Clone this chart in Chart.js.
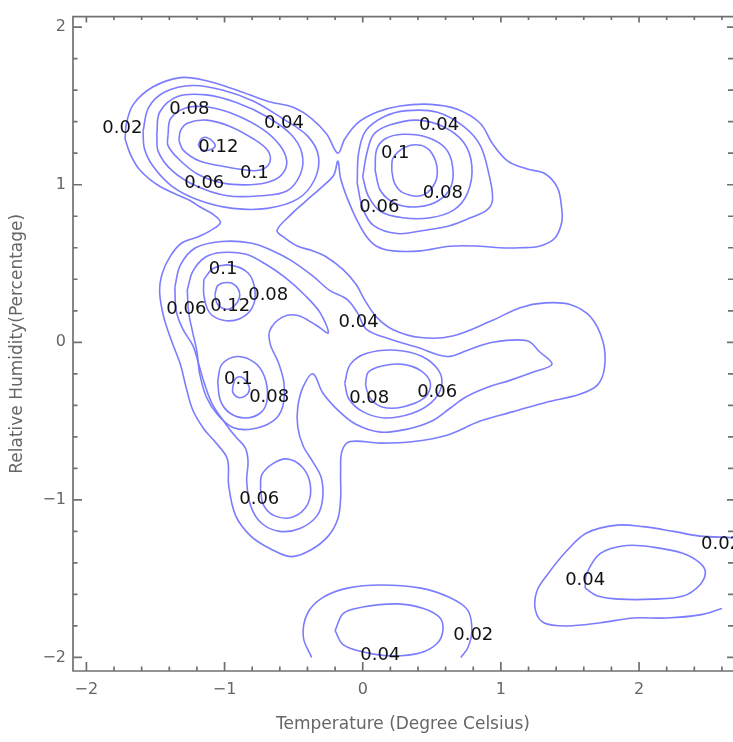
<!DOCTYPE html>
<html>
<head>
<meta charset="utf-8">
<script src="https://cdn.jsdelivr.net/npm/chart.js@4.4.0/dist/chart.umd.min.js"></script>
<style>
html, body { margin: 0; padding: 0; background: #fff; }
canvas { display: block; }
</style>
</head>
<body>
<canvas id="Chart" width="733" height="742"></canvas>
<script>
var xTicks = [-2, -1, 0, 1, 2];
var yTicks = [-2, -1, 0, 1, 2];

// contour lines, each point is [temperature, humidity]
var outer02 = [[-1.72,1.29],[-1.71,1.39],[-1.66,1.51],[-1.52,1.62],[-1.32,1.68],[-1.13,1.66],[-0.91,1.60],[-0.69,1.53],[-0.50,1.49],[-0.37,1.42],[-0.26,1.32],[-0.18,1.20],
  [-0.13,1.29],[-0.04,1.39],[0.10,1.46],[0.27,1.50],[0.49,1.51],[0.68,1.48],[0.85,1.39],[0.94,1.26],[1.05,1.15],[1.19,1.10],[1.32,1.07],[1.41,0.98],[1.44,0.85],[1.44,0.76],[1.39,0.66],[1.28,0.61],[1.14,0.60],[0.99,0.60],[0.85,0.61],[0.63,0.61],[0.42,0.58],[0.22,0.58],[0.10,0.61],[0.02,0.68],[-0.05,0.79],[-0.11,0.91],[-0.16,1.04],[-0.18,1.15],
  [-0.21,1.06],[-0.29,0.99],[-0.42,0.89],[-0.52,0.81],[-0.62,0.71],[-0.56,0.66],[-0.47,0.61],[-0.36,0.58],[-0.26,0.54],[-0.14,0.46],[-0.05,0.37],[0.02,0.26],[0.10,0.16],[0.22,0.08],[0.42,0.03],[0.65,0.04],[0.94,0.14],[1.14,0.22],[1.32,0.25],[1.50,0.24],[1.65,0.16],[1.74,0.00],[1.75,-0.16],[1.70,-0.27],[1.57,-0.33],[1.33,-0.38],[1.09,-0.44],[0.85,-0.50],[0.61,-0.59],[0.37,-0.63],[0.13,-0.64],[-0.09,-0.63],[-0.15,-0.69],[-0.16,-0.82],[-0.16,-0.99],[-0.18,-1.12],[-0.25,-1.23],[-0.38,-1.32],[-0.52,-1.36],[-0.67,-1.31],[-0.81,-1.23],[-0.92,-1.10],[-0.97,-0.91],[-0.98,-0.74],[-1.07,-0.63],[-1.15,-0.55],[-1.23,-0.43],[-1.28,-0.28],[-1.32,-0.14],[-1.38,0.00],[-1.44,0.16],[-1.47,0.32],[-1.45,0.44],[-1.39,0.55],[-1.31,0.63],[-1.19,0.67],[-1.10,0.71],[-1.03,0.76],[-1.08,0.81],[-1.18,0.86],[-1.25,0.90],[-1.47,0.99],[-1.61,1.09],[-1.68,1.19],[-1.72,1.29]];

var tl12 = [[-1.19,1.25],[-1.17,1.29],[-1.13,1.30],[-1.08,1.27],[-1.07,1.24],[-1.11,1.22],[-1.16,1.22],[-1.19,1.25]];
var tl10 = [[-1.33,1.28],[-1.32,1.34],[-1.27,1.39],[-1.13,1.41],[-0.96,1.37],[-0.79,1.29],[-0.69,1.22],[-0.67,1.15],[-0.72,1.10],[-0.81,1.09],[-1.03,1.12],[-1.18,1.15],[-1.30,1.22],[-1.33,1.28]];
var tl08 = [[-1.41,1.31],[-1.39,1.42],[-1.27,1.49],[-1.10,1.49],[-0.91,1.44],[-0.72,1.35],[-0.60,1.25],[-0.55,1.15],[-0.58,1.07],[-0.67,1.02],[-0.81,1.00],[-1.01,1.01],[-1.20,1.07],[-1.34,1.17],[-1.41,1.25],[-1.41,1.31]];
var tl06 = [[-1.49,1.32],[-1.47,1.46],[-1.34,1.56],[-1.13,1.57],[-0.91,1.52],[-0.69,1.43],[-0.52,1.32],[-0.44,1.20],[-0.45,1.07],[-0.55,0.96],[-0.74,0.93],[-0.98,0.93],[-1.20,0.99],[-1.38,1.09],[-1.48,1.21],[-1.49,1.32]];
var tl04 = [[-1.59,1.34],[-1.55,1.49],[-1.43,1.59],[-1.23,1.63],[-1.01,1.60],[-0.79,1.53],[-0.58,1.42],[-0.40,1.31],[-0.32,1.18],[-0.35,1.03],[-0.47,0.91],[-0.69,0.85],[-0.94,0.85],[-1.18,0.90],[-1.38,0.99],[-1.52,1.12],[-1.58,1.23],[-1.59,1.34]];

var tr10 = [[0.21,1.09],[0.22,1.17],[0.31,1.24],[0.42,1.25],[0.50,1.20],[0.54,1.09],[0.51,0.99],[0.42,0.93],[0.29,0.95],[0.23,1.01],[0.21,1.09]];
var tr08 = [[0.09,1.09],[0.10,1.22],[0.16,1.29],[0.29,1.32],[0.47,1.30],[0.60,1.23],[0.65,1.12],[0.64,0.99],[0.55,0.90],[0.40,0.86],[0.24,0.88],[0.13,0.96],[0.09,1.09]];
var tr06 = [[0.00,1.05],[0.03,1.20],[0.08,1.32],[0.20,1.38],[0.39,1.41],[0.58,1.37],[0.73,1.27],[0.79,1.12],[0.76,0.95],[0.66,0.84],[0.49,0.79],[0.29,0.79],[0.13,0.83],[0.04,0.93],[0.00,1.05]];
var tr04 = [[-0.04,1.01],[-0.03,1.20],[0.02,1.34],[0.15,1.43],[0.32,1.47],[0.54,1.46],[0.73,1.37],[0.85,1.25],[0.91,1.08],[0.94,0.91],[0.90,0.84],[0.78,0.79],[0.63,0.74],[0.44,0.71],[0.25,0.69],[0.08,0.74],[0.00,0.85],[-0.04,1.01]];

var ml12 = [[-1.07,0.30],[-1.05,0.36],[-0.98,0.38],[-0.92,0.36],[-0.89,0.30],[-0.92,0.24],[-0.98,0.21],[-1.05,0.24],[-1.07,0.30]];
var ml10 = [[-1.15,0.40],[-1.08,0.47],[-0.96,0.49],[-0.83,0.44],[-0.78,0.33],[-0.80,0.22],[-0.89,0.15],[-1.01,0.14],[-1.11,0.19],[-1.15,0.30],[-1.15,0.40]];
var ml06 = [[-1.27,0.33],[-1.23,0.45],[-1.14,0.54],[-1.02,0.57],[-0.85,0.56],[-0.71,0.50],[-0.56,0.41],[-0.42,0.30],[-0.31,0.19],[-0.25,0.06],[-0.34,0.11],[-0.47,0.17],[-0.58,0.16],[-0.67,0.08],[-0.67,-0.01],[-0.61,-0.13],[-0.57,-0.26],[-0.58,-0.41],[-0.65,-0.50],[-0.80,-0.55],[-0.94,-0.54],[-1.05,-0.46],[-1.13,-0.35],[-1.18,-0.20],[-1.20,-0.06],[-1.23,0.06],[-1.26,0.19],[-1.27,0.33]];
var lb10 = [[-0.94,-0.28],[-0.92,-0.23],[-0.88,-0.22],[-0.84,-0.25],[-0.82,-0.30],[-0.85,-0.34],[-0.90,-0.35],[-0.94,-0.32],[-0.94,-0.28]];
var lb08 = [[-1.05,-0.25],[-1.02,-0.14],[-0.91,-0.09],[-0.78,-0.13],[-0.71,-0.22],[-0.69,-0.35],[-0.73,-0.44],[-0.84,-0.48],[-0.96,-0.45],[-1.03,-0.37],[-1.05,-0.25]];
var mid04 = [[-1.36,0.35],[-1.32,0.49],[-1.21,0.60],[-1.02,0.64],[-0.81,0.63],[-0.65,0.58],[-0.52,0.52],[-0.36,0.42],[-0.24,0.33],[-0.11,0.27],[-0.04,0.19],[0.03,0.08],[0.20,0.02],[0.39,-0.03],[0.61,-0.09],[0.76,-0.05],[0.94,0.00],[1.19,0.01],[1.28,-0.06],[1.37,-0.14],[1.23,-0.19],[1.07,-0.24],[0.89,-0.29],[0.74,-0.35],[0.63,-0.42],[0.50,-0.50],[0.33,-0.55],[0.13,-0.57],[-0.05,-0.52],[-0.18,-0.43],[-0.29,-0.32],[-0.36,-0.20],[-0.43,-0.28],[-0.47,-0.41],[-0.47,-0.54],[-0.43,-0.66],[-0.36,-0.76],[-0.30,-0.86],[-0.29,-0.99],[-0.33,-1.10],[-0.45,-1.18],[-0.60,-1.20],[-0.73,-1.15],[-0.81,-1.04],[-0.84,-0.88],[-0.83,-0.76],[-0.85,-0.67],[-0.92,-0.60],[-0.99,-0.52],[-1.09,-0.39],[-1.15,-0.25],[-1.19,-0.13],[-1.23,-0.02],[-1.30,0.08],[-1.35,0.20],[-1.36,0.35]];
var mc08 = [[0.02,-0.27],[0.04,-0.19],[0.14,-0.15],[0.29,-0.14],[0.42,-0.18],[0.49,-0.26],[0.45,-0.35],[0.29,-0.41],[0.14,-0.41],[0.05,-0.35],[0.02,-0.27]];
var mc06 = [[-0.13,-0.26],[-0.09,-0.14],[0.03,-0.07],[0.24,-0.05],[0.43,-0.09],[0.55,-0.18],[0.57,-0.28],[0.50,-0.38],[0.36,-0.45],[0.16,-0.48],[0.00,-0.44],[-0.10,-0.36],[-0.13,-0.26]];
var ld06 = [[-0.74,-0.93],[-0.73,-0.84],[-0.65,-0.77],[-0.55,-0.74],[-0.44,-0.79],[-0.38,-0.90],[-0.40,-1.03],[-0.51,-1.11],[-0.64,-1.10],[-0.72,-1.03],[-0.74,-0.93]];

var bc02 = [[-0.37,-2.00],[-0.43,-1.87],[-0.40,-1.72],[-0.29,-1.62],[-0.11,-1.56],[0.13,-1.54],[0.42,-1.56],[0.63,-1.62],[0.76,-1.70],[0.79,-1.83],[0.76,-1.94],[0.71,-2.00]];
var bc04 = [[-0.20,-1.83],[-0.14,-1.72],[0.00,-1.68],[0.25,-1.66],[0.44,-1.69],[0.56,-1.75],[0.58,-1.83],[0.54,-1.91],[0.42,-1.97],[0.22,-1.99],[0.03,-1.97],[-0.14,-1.92],[-0.20,-1.83]];
var br02 = [[2.60,-1.69],[2.44,-1.73],[2.20,-1.75],[1.96,-1.75],[1.72,-1.78],[1.48,-1.80],[1.31,-1.78],[1.25,-1.70],[1.26,-1.58],[1.34,-1.47],[1.48,-1.32],[1.62,-1.21],[1.84,-1.16],[2.03,-1.17],[2.25,-1.20],[2.44,-1.23],[2.68,-1.24],[2.80,-1.25]];
var br04 = [[1.61,-1.56],[1.62,-1.47],[1.72,-1.34],[1.91,-1.29],[2.10,-1.30],[2.32,-1.34],[2.44,-1.40],[2.48,-1.46],[2.44,-1.54],[2.32,-1.61],[2.10,-1.63],[1.86,-1.63],[1.70,-1.61],[1.61,-1.56]];

// contour level labels
var labelText = ['0.02','0.08','0.04','0.12','0.1','0.06','0.04','0.1','0.08','0.06','0.1','0.08','0.12','0.06','0.04','0.1','0.08','0.08','0.06','0.06','0.04','0.02','0.04','0.02'];
var labelX = [-1.74,-1.255,-0.57,-1.045,-0.785,-1.147,0.553,0.235,0.58,0.12,-1.01,-0.684,-0.959,-1.277,-0.03,-0.90,-0.677,0.047,0.539,-0.749,0.127,0.80,1.61,2.594];
var labelY = [1.355,1.48,1.39,1.24,1.07,1.01,1.38,1.20,0.945,0.857,0.46,0.296,0.227,0.208,0.126,-0.233,-0.347,-0.353,-0.315,-0.996,-1.985,-1.86,-1.513,-1.28];

var lines = [outer02, tl12, tl10, tl08, tl06, tl04, tr10, tr08, tr06, tr04,
  ml12, ml10, ml06, lb10, lb08, mid04, mc08, mc06, ld06, bc02, bc04, br02, br04];

var datasets = [];
lines.forEach(function (l) {
  datasets.push({
    data: l,
    showLine: true,
    borderColor: '#7c7cff',
    borderWidth: 1.6,
    pointRadius: 0,
    tension: 0.35,
    fill: false
  });
});

function fmt(v) {
  return v < 0 ? '\u2212' + Math.abs(v) : String(v);
}

// frame with inward ticks on all four sides
var frame = {
  id: 'frame',
  afterDraw: function (chart) {
    var ctx = chart.ctx, a = chart.chartArea;
    var xs = chart.scales.x, ys = chart.scales.y;
    ctx.save();
    ctx.strokeStyle = '#707070';
    ctx.lineWidth = 1.7;
    ctx.beginPath();
    ctx.moveTo(a.right, a.top);
    ctx.lineTo(a.left, a.top);
    ctx.lineTo(a.left, a.bottom);
    ctx.lineTo(a.right, a.bottom);
    for (var i = -10; i <= 14; i++) {
      var v = i / 5;
      if (v < xs.min || v > xs.max) continue;
      var px = xs.getPixelForValue(v);
      var major = i % 5 === 0;
      ctx.moveTo(px, a.bottom); ctx.lineTo(px, a.bottom - (major ? 9 : 4.5));
      ctx.moveTo(px, a.top); ctx.lineTo(px, a.top + (major ? 6 : 3.5));
    }
    for (var j = -10; j <= 10; j++) {
      var w = j / 5;
      if (w < ys.min || w > ys.max) continue;
      var py = ys.getPixelForValue(w);
      var maj = j % 5 === 0;
      ctx.moveTo(a.left, py); ctx.lineTo(a.left + (maj ? 9 : 4.5), py);
      ctx.moveTo(a.right, py); ctx.lineTo(a.right - (maj ? 6 : 5), py);
    }
    ctx.stroke();
    ctx.restore();
  }
};

var levelLabels = {
  id: 'levelLabels',
  afterDatasetsDraw: function (chart) {
    var ctx = chart.ctx;
    ctx.save();
    ctx.fillStyle = '#111';
    ctx.font = '18px "DejaVu Sans"';
    ctx.textAlign = 'center';
    ctx.textBaseline = 'middle';
    for (var i = 0; i < labelText.length; i++) {
      ctx.fillText(labelText[i], chart.scales.x.getPixelForValue(labelX[i]), chart.scales.y.getPixelForValue(labelY[i]));
    }
    ctx.restore();
  }
};

var ctx = document.getElementById('Chart').getContext('2d');
var chart = new Chart(ctx, {
  type: 'scatter',
  data: { datasets: datasets },
  options: {
    responsive: false,
    animation: false,
    events: [],
    layout: { padding: { top: 12, right: 0, left: 0, bottom: 0 } },
    plugins: { legend: { display: false }, tooltip: { enabled: false } },
    scales: {
      x: {
        type: 'linear',
        min: -2.097,
        max: 2.68,
        afterFit: function (s) { s.height = 71; },
        afterBuildTicks: function (s) { s.ticks = xTicks.map(function (v) { return { value: v }; }); },
        grid: { display: false, drawTicks: false },
        border: { display: false },
        ticks: { padding: 9, color: '#666', maxRotation: 0, autoSkip: false, font: { family: 'DejaVu Sans', size: 16 }, callback: fmt },
        title: { display: true, text: 'Temperature (Degree Celsius)', color: '#666', font: { family: 'DejaVu Sans', size: 17 }, padding: { top: 0, bottom: 7 } }
      },
      y: {
        type: 'linear',
        min: -2.086,
        max: 2.067,
        afterFit: function (s) { s.width = 73; },
        afterBuildTicks: function (s) { s.ticks = yTicks.map(function (v) { return { value: v }; }); },
        grid: { display: false, drawTicks: false },
        border: { display: false },
        ticks: { padding: 7, color: '#666', autoSkip: false, font: { family: 'DejaVu Sans', size: 16 }, callback: fmt },
        title: { display: true, text: 'Relative Humidity(Percentage)', color: '#666', font: { family: 'DejaVu Sans', size: 17 }, padding: { top: 7, bottom: 0 } }
      }
    }
  },
  plugins: [frame, levelLabels]
});
</script>
</body>
</html>
